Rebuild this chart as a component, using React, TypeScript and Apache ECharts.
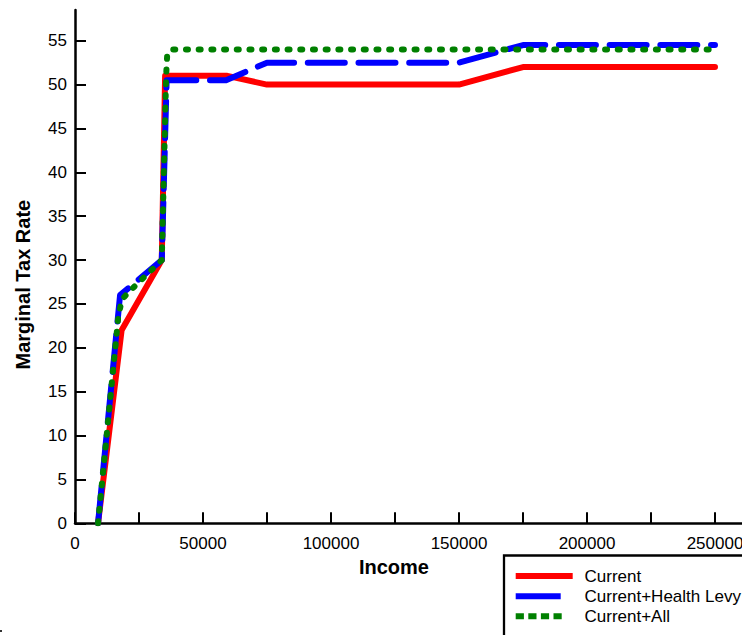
import React, { useEffect, useRef } from "react";
import * as echarts from "echarts";

const FONT = "'Liberation Sans', Arial, Helvetica, sans-serif";

const seriesNames = ["Current", "Current+Health Levy", "Current+All"];
const seriesColors = ["#ff0000", "#0000ff", "#008000"];

const incomeCurrent = [9000, 18200, 33900, 35200, 59500, 75000, 150000, 175000, 250000];
const rateCurrent = [0, 22, 30, 51, 51, 50, 50, 52, 52];

const incomeHealth = [9000, 17600, 33900, 35800, 59000, 75000, 150000, 175000, 250000];
const rateHealth = [0, 26, 30, 50.5, 50.5, 52.5, 52.5, 54.5, 54.5];

const incomeAll = [9000, 16900, 18300, 20800, 33900, 35600, 36000, 37500, 250000];
const rateAll = [0, 23.5, 25.5, 26.3, 30, 51, 53.3, 54, 54];

const xTicks = [0, 25000, 50000, 75000, 100000, 125000, 150000, 175000, 200000, 225000, 250000, 275000];
const xLabels = [0, 50000, 100000, 150000, 200000, 250000];
const yTicks = [0, 5, 10, 15, 20, 25, 30, 35, 40, 45, 50, 55];

const zip = (xs: number[], ys: number[]) => xs.map((x, i) => [x, ys[i]]);

export default function App() {
  const ref = useRef<HTMLDivElement>(null);
  useEffect(() => {
    if (!ref.current) return;
    const chart = echarts.init(ref.current, undefined, { renderer: "svg" });
    const axisLine = { show: true, lineStyle: { color: "#000", width: 2.5 } };
    const plain = (v: number) => String(v);
    const swatch = (y: number, x2: number, color: string, dash?: number[]) => ({
      type: "line",
      z: 200,
      silent: true,
      shape: { x1: 515.7, y1: y, x2, y2: y },
      style: { stroke: color, lineWidth: 6, lineCap: "butt", lineDash: dash },
    });
    chart.setOption({
      animation: false,
      backgroundColor: "#fff",
      textStyle: { fontFamily: FONT },
      grid: { left: 75, top: 10, right: 28.2, bottom: 196.7, containLabel: false },
      xAxis: {
        type: "value",
        min: 0,
        max: 280000,
        interval: 25000,
        name: "Income",
        nameLocation: "middle",
        nameGap: 32,
        nameTextStyle: { fontSize: 20, fontWeight: "bold", color: "#000", fontFamily: FONT, padding: [0, 79, 0, 0] },
        axisLine,
        axisTick: { show: true, inside: true, length: 11, lineStyle: { color: "#000", width: 2 }, customValues: xTicks },
        axisLabel: { fontSize: 17, color: "#000", margin: 12, fontFamily: FONT, customValues: xLabels, formatter: plain },
        splitLine: { show: false },
      },
      yAxis: {
        type: "value",
        min: 0,
        max: 58.5,
        interval: 5,
        name: "Marginal Tax Rate",
        nameLocation: "middle",
        nameGap: 42,
        nameTextStyle: { fontSize: 20, fontWeight: "bold", color: "#000", fontFamily: FONT, padding: [0, 36, 0, 0] },
        axisLine,
        axisTick: { show: true, inside: true, length: 11, lineStyle: { color: "#000", width: 2 }, customValues: yTicks },
        axisLabel: { fontSize: 17, color: "#000", margin: 8, fontFamily: FONT, customValues: yTicks, formatter: plain },
        splitLine: { show: false },
      },
      legend: {
        orient: "vertical",
        left: 504,
        top: 555.5,
        padding: [12, 40, 40, 11.5],
        itemWidth: 57,
        itemHeight: 14,
        itemGap: 3,
        borderColor: "#000",
        borderWidth: 2.3,
        borderRadius: 0,
        backgroundColor: "#fff",
        selectedMode: false,
        itemStyle: { color: "rgba(0,0,0,0)", borderWidth: 0, borderColor: "rgba(0,0,0,0)", opacity: 0 },
        lineStyle: { width: 6, opacity: 0 },
        textStyle: { fontSize: 17, color: "#000", fontFamily: FONT, padding: [0, 0, 0, 4] },
        data: seriesNames,
      },
      series: [
        {
          name: seriesNames[0],
          type: "line",
          data: zip(incomeCurrent, rateCurrent),
          symbol: "none",
          lineStyle: { color: seriesColors[0], width: 6, cap: "round", join: "round" },
          itemStyle: { color: seriesColors[0] },
        },
        {
          name: seriesNames[1],
          type: "line",
          data: zip(incomeHealth, rateHealth),
          symbol: "none",
          lineStyle: { color: seriesColors[1], width: 6, type: [37, 13.7], cap: "round", join: "round" },
          itemStyle: { color: seriesColors[1] },
        },
        {
          name: seriesNames[2],
          type: "line",
          data: zip(incomeAll, rateAll),
          symbol: "none",
          lineStyle: { color: seriesColors[2], width: 6, type: [2, 10.7], cap: "round", join: "round" },
          itemStyle: { color: seriesColors[2] },
        },
      ],
      graphic: [
        { type: "rect", left: 0, top: 630, shape: { width: 2, height: 2 }, style: { fill: "#333" } },
        swatch(576, 572.7, seriesColors[0]),
        swatch(596.3, 560.7, seriesColors[1]),
        swatch(616.3, 563.3, seriesColors[2], [8.2, 4.4]),
      ],
    });
    return () => chart.dispose();
  }, []);
  return (
    <div style={{ position: "fixed", left: 0, top: 0, width: 742, height: 635, overflow: "hidden", background: "#fff" }}>
      <div ref={ref} style={{ width: 820, height: 720 }} />
    </div>
  );
}
